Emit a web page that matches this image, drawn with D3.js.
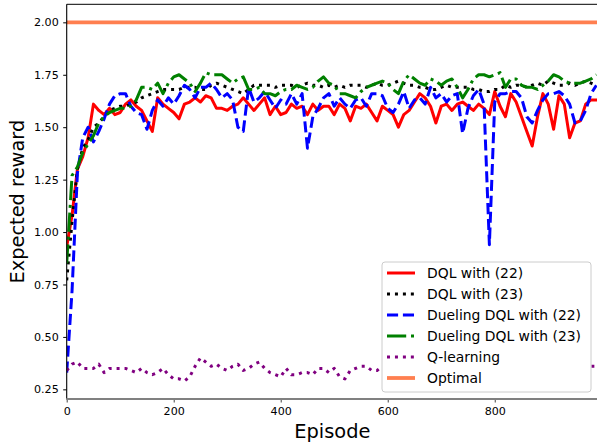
<!DOCTYPE html>
<html>
<head>
<meta charset="utf-8">
<script src="https://cdn.jsdelivr.net/npm/d3@7"></script>
<style>
  html, body { margin: 0; padding: 0; background: #fff; }
  svg { display: block; font-family: "DejaVu Sans", sans-serif; }
</style>
</head>
<body>
<svg id="chart" width="597" height="444"></svg>
<script>
// ---------------- data ----------------
const episodes = d3.range(0, 1000, 10);

const dql22 = [0.93,1.08,1.30,1.36,1.45,1.61,1.58,1.56,1.59,1.56,
 1.57,1.61,1.63,1.60,1.58,1.53,1.48,1.64,1.61,1.59,
 1.57,1.54,1.61,1.62,1.64,1.62,1.65,1.64,1.59,1.59,
 1.58,1.60,1.61,1.64,1.61,1.58,1.61,1.64,1.56,1.60,
 1.56,1.57,1.61,1.59,1.60,1.56,1.61,1.58,1.60,1.60,
 1.56,1.61,1.59,1.53,1.60,1.59,1.61,1.57,1.53,1.60,
 1.58,1.56,1.50,1.56,1.58,1.62,1.66,1.64,1.60,1.52,
 1.60,1.61,1.58,1.61,1.62,1.60,1.58,1.61,1.59,1.56,
 1.67,1.60,1.55,1.66,1.62,1.55,1.48,1.41,1.55,1.66,
 1.61,1.49,1.65,1.61,1.45,1.52,1.53,1.61,1.63,1.63];

const dql23 = [0.77,1.05,1.30,1.40,1.44,1.50,1.52,1.55,1.58,1.59,
 1.60,1.60,1.61,1.62,1.64,1.65,1.66,1.67,1.68,1.68,
 1.68,1.68,1.69,1.69,1.69,1.68,1.68,1.70,1.71,1.70,
 1.69,1.68,1.67,1.66,1.68,1.70,1.70,1.70,1.70,1.69,
 1.70,1.70,1.70,1.69,1.70,1.71,1.70,1.70,1.69,1.70,
 1.69,1.70,1.69,1.70,1.70,1.70,1.69,1.70,1.71,1.70,
 1.70,1.71,1.72,1.71,1.70,1.70,1.69,1.69,1.68,1.68,
 1.69,1.70,1.69,1.69,1.69,1.69,1.68,1.68,1.67,1.67,
 1.68,1.68,1.70,1.69,1.70,1.70,1.69,1.70,1.71,1.70,
 1.72,1.71,1.70,1.70,1.71,1.70,1.71,1.72,1.71,1.70];

const duel22 = [0.33,0.72,1.28,1.45,1.50,1.43,1.48,1.54,1.61,1.65,
 1.66,1.66,1.60,1.57,1.56,1.49,1.58,1.63,1.60,1.64,
 1.61,1.65,1.70,1.68,1.64,1.69,1.69,1.71,1.68,1.64,
 1.66,1.63,1.50,1.48,1.69,1.62,1.64,1.67,1.63,1.59,
 1.63,1.61,1.66,1.61,1.66,1.40,1.55,1.59,1.64,1.66,
 1.60,1.64,1.61,1.59,1.63,1.64,1.60,1.66,1.66,1.65,
 1.59,1.57,1.61,1.67,1.59,1.63,1.64,1.61,1.69,1.64,
 1.66,1.62,1.65,1.66,1.47,1.59,1.65,1.68,1.61,0.94,
 1.62,1.66,1.66,1.67,1.67,1.64,1.55,1.52,1.58,1.63,
 1.66,1.66,1.67,1.65,1.61,1.52,1.53,1.58,1.66,1.70];

const duel23 = [0.85,1.27,1.31,1.38,1.42,1.46,1.52,1.55,1.57,1.58,
 1.59,1.59,1.60,1.63,1.69,1.69,1.68,1.71,1.66,1.71,
 1.74,1.75,1.73,1.71,1.67,1.71,1.76,1.75,1.75,1.75,
 1.73,1.71,1.73,1.74,1.68,1.68,1.69,1.66,1.66,1.65,
 1.67,1.68,1.68,1.70,1.69,1.68,1.69,1.72,1.74,1.71,
 1.70,1.66,1.66,1.65,1.64,1.67,1.69,1.70,1.71,1.72,
 1.71,1.68,1.66,1.72,1.75,1.73,1.71,1.70,1.73,1.72,
 1.70,1.72,1.73,1.69,1.64,1.68,1.73,1.75,1.75,1.74,
 1.75,1.76,1.69,1.73,1.73,1.70,1.69,1.69,1.68,1.70,
 1.72,1.75,1.74,1.72,1.71,1.71,1.71,1.72,1.73,1.75];

const qlearn = [0.34,0.37,0.38,0.35,0.35,0.35,0.37,0.33,0.35,0.35,
 0.35,0.35,0.34,0.33,0.35,0.33,0.32,0.33,0.35,0.32,
 0.30,0.30,0.29,0.31,0.36,0.40,0.38,0.36,0.37,0.35,
 0.34,0.36,0.37,0.34,0.35,0.37,0.38,0.35,0.33,0.32,
 0.31,0.35,0.32,0.32,0.33,0.33,0.32,0.35,0.35,0.33,
 0.35,0.31,0.30,0.34,0.35,0.36,0.36,0.34,0.34,0.36,
 0.35,0.34,0.36,0.35,0.33,0.35,0.37,0.36,0.34,0.35,
 0.36,0.34,0.33,0.35,0.36,0.37,0.35,0.34,0.35,0.36,
 0.34,0.35,0.33,0.35,0.36,0.34,0.35,0.36,0.35,0.34,
 0.36,0.35,0.34,0.36,0.35,0.36,0.36,0.37,0.36,0.36];

const optimalValue = 2.0;

const seriesNames = ["DQL with (22)", "DQL with (23)", "Dueling DQL with (22)",
                     "Dueling DQL with (23)", "Q-learning", "Optimal"];
const xTicks = [0, 200, 400, 600, 800];
const yTicks = [0.25, 0.50, 0.75, 1.00, 1.25, 1.50, 1.75, 2.00];

// ---------------- styles ----------------
const lw = 3;
const styles = [
  {color: "#ff0000", width: lw, dash: null, cap: "square"},
  {color: "#000000", width: lw, dash: [lw*1, lw*1.65], cap: "butt"},
  {color: "#0000ff", width: lw, dash: [lw*3.7, lw*1.6], cap: "butt"},
  {color: "#008000", width: lw, dash: [lw*6.4, lw*1.6, lw*1, lw*1.6], cap: "butt"},
  {color: "#800080", width: lw, dash: [lw*1, lw*1.65], cap: "butt"},
  {color: "#ff7f50", width: 3.8, dash: null, cap: "square"}
];

// ---------------- layout ----------------
const L = 66.7, R = 598, T = 4.3, B = 399;
const svg = d3.select("#chart");

const x = d3.scaleLinear().domain([0, 993]).range([L, R]);
const y = d3.scaleLinear().domain([0.204, 2.086]).range([B, T]);

svg.append("defs").append("clipPath").attr("id", "clip")
  .append("rect").attr("x", L).attr("y", T).attr("width", R - L).attr("height", B - T);

const seriesData = [
  episodes.map((e, i) => ({e, v: dql22[i]})),
  episodes.map((e, i) => ({e, v: dql23[i]})),
  episodes.map((e, i) => ({e, v: duel22[i]})),
  episodes.map((e, i) => ({e, v: duel23[i]})),
  episodes.map((e, i) => ({e, v: qlearn[i]})),
  [{e: episodes[0], v: optimalValue}, {e: episodes[episodes.length - 1], v: optimalValue}]
];

const line = d3.line().x(d => x(d.e)).y(d => y(d.v));
const plot = svg.append("g").attr("clip-path", "url(#clip)");
seriesData.forEach((data, i) => {
  const s = styles[i];
  plot.append("path")
    .datum(data)
    .attr("d", line)
    .attr("fill", "none")
    .attr("stroke", s.color)
    .attr("stroke-width", s.width)
    .attr("stroke-linejoin", "round")
    .attr("stroke-linecap", s.cap)
    .attr("stroke-dasharray", s.dash ? s.dash.join(",") : null);
});

// ---------------- axes ----------------
const yAxis = svg.append("g").attr("transform", `translate(${L},0)`)
  .call(d3.axisLeft(y).tickValues(yTicks).tickFormat(d3.format(".2f")).tickSize(3.5).tickSizeOuter(0).tickPadding(4.5));
yAxis.select(".domain").remove();
yAxis.selectAll("text").attr("font-size", 11.1).attr("font-family", "DejaVu Sans").attr("fill", "#000");
yAxis.selectAll("line").attr("stroke", "#000").attr("stroke-width", 1);

const xAxis = svg.append("g").attr("transform", `translate(0,${B})`)
  .call(d3.axisBottom(x).tickValues(xTicks).tickFormat(d3.format("d")).tickSize(3.5).tickSizeOuter(0).tickPadding(4.5));
xAxis.select(".domain").remove();
xAxis.selectAll("text").attr("font-size", 11.1).attr("font-family", "DejaVu Sans").attr("fill", "#000");
xAxis.selectAll("line").attr("stroke", "#444").attr("stroke-width", 1);

// spines
svg.append("line").attr("x1", L).attr("x2", R).attr("y1", T).attr("y2", T)
  .attr("stroke", "#000").attr("stroke-width", 1);
svg.append("line").attr("x1", L).attr("x2", L).attr("y1", T).attr("y2", B)
  .attr("stroke", "#000").attr("stroke-width", 1.1);
svg.append("line").attr("x1", L - 0.5).attr("x2", R).attr("y1", B).attr("y2", B)
  .attr("stroke", "#808080").attr("stroke-width", 2);

// labels
svg.append("text").attr("x", (L + R) / 2).attr("y", 438)
  .attr("text-anchor", "middle").attr("font-size", 19.4).attr("fill", "#000")
  .text("Episode");
svg.append("text")
  .attr("transform", `translate(${24},${(T + B) / 2}) rotate(-90)`)
  .attr("text-anchor", "middle").attr("font-size", 19.4).attr("fill", "#000")
  .text("Expected reward");

// ---------------- legend ----------------
const lg = svg.append("g");
lg.append("rect").attr("x", 382).attr("y", 262).attr("width", 209).attr("height", 130)
  .attr("rx", 3).attr("ry", 3)
  .attr("fill", "#fff")
  .attr("stroke", "#cccccc").attr("stroke-width", 1);
seriesNames.forEach((name, i) => {
  const cy = 273 + i * 21;
  const s = styles[i];
  lg.append("line").attr("x1", 387).attr("x2", 415).attr("y1", cy).attr("y2", cy)
    .attr("stroke", s.color).attr("stroke-width", s.width)
    .attr("stroke-linecap", "butt")
    .attr("stroke-dasharray", s.dash ? s.dash.join(",") : null);
  lg.append("text").attr("x", 427).attr("y", cy).attr("dy", "0.36em")
    .attr("font-size", 13.9).attr("fill", "#000").text(name);
});
</script>
</body>
</html>
